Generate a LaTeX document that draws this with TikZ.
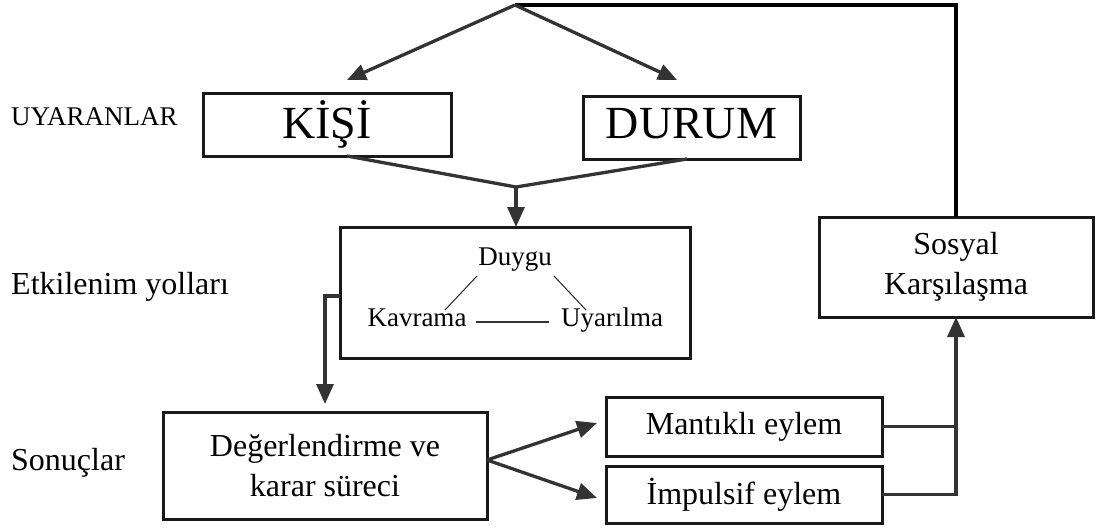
\documentclass[tikz,border=0pt]{standalone}
\usepackage{fontspec}
\setmainfont{Liberation Serif}
\usetikzlibrary{arrows.meta,calc}
\begin{document}
\begin{tikzpicture}[x=1pt,y=-1pt,
  box/.style={draw=black!90, line width=3pt, rectangle, inner sep=0pt, outer sep=0pt, align=center},
  conn/.style={draw=black!80, line width=3.3pt},
  arr/.style={conn, -{Triangle[length=20pt,width=17pt]}},
  arrs/.style={conn, -{Triangle[length=19pt,width=16pt]}},
  thinline/.style={draw=black!80, line width=1.1pt},
  lbl/.style={inner sep=0pt, text height=0.7em, text depth=0.25em},
  big/.style={font=\fontsize{46}{50}\selectfont},
  mid/.style={font=\fontsize{32}{40}\selectfont},
  small/.style={font=\fontsize{27}{32}\selectfont}
]
\useasboundingbox (0,0) rectangle (1097,528);

% left labels
\node[lbl, small, anchor=west] (uyaranlar) at (11,123) {UYARANLAR};
\node[lbl, mid, anchor=west] (etkilenim) at (11,292) {Etkilenim yolları};
\node[lbl, mid, anchor=west] (sonuclar) at (11,468) {Sonuçlar};

% boxes
\node[box, big, minimum width=248pt, minimum height=63pt] (kisi) at (327,124.5) {KİŞİ};
\node[box, big, minimum width=217pt, minimum height=63pt, text height=30pt, text depth=9pt] (durum) at (691.5,127.5) {DURUM};
\node[box, minimum width=350pt, minimum height=131pt] (etk) at (515,292.5) {};
\node[box, mid, minimum width=324pt, minimum height=107pt] (deg) at (325,465.5) {Değerlendirme ve\\karar süreci};
\node[box, mid, minimum width=276pt, minimum height=59pt] (mant) at (744,426.5) {Mantıklı eylem};
\node[box, mid, minimum width=276pt, minimum height=57pt] (imp) at (744,494.5) {İmpulsif eylem};
\node[box, mid, minimum width=274pt, minimum height=100pt] (sos) at (956,267) {Sosyal\\Karşılaşma};

% inner triangle
\node[lbl, small] (duygu) at (515,263) {Duygu};
\node[lbl, small] (kav) at (417,324) {Kavrama};
\node[lbl, small] (uyar) at (612,324) {Uyarılma};
\draw[thinline] ($(duygu)+(-38,13)$) -- ($(kav)+(28,-14)$);
\draw[thinline] ($(duygu)+(39,13)$) -- ($(uyar)+(-26,-14)$);
\draw[thinline] ($(kav)+(59,-2)$) -- ($(uyar)+(-63,-2)$);

% top feedback
\coordinate (apex) at (515,5);
\draw[draw=black, line width=4.2pt] (sos.north) -- (sos.north |- apex) -- (apex);
\draw[arrs] (apex) -- ([xshift=20pt,yshift=13pt]kisi.north);
\draw[arrs] (apex) -- ([xshift=-14.5pt,yshift=16pt]durum.north);

% merge into etk
\coordinate (join) at (516,187);
\draw[conn] ([xshift=20pt]kisi.south) -- (join) -- ([xshift=-4.5pt]durum.south);
\draw[arr] (join) -- (etk.north -| join);

% etk to deg
\draw[arr, shorten >=8pt] ([yshift=-3.5pt]etk.west) -| (deg.north);

% deg to actions
\draw[arr] ([yshift=5.5pt]deg.east) -- ([xshift=-9pt,yshift=3.5pt]mant.west);
\draw[arr] ([yshift=5.5pt]deg.east) -- ([xshift=-9pt,yshift=-3.5pt]imp.west);

% actions to sosyal
\draw[conn] (mant.east) -- (mant.east -| sos.south);
\draw[arr] (imp.east) -| (sos.south);
\end{tikzpicture}
\end{document}
